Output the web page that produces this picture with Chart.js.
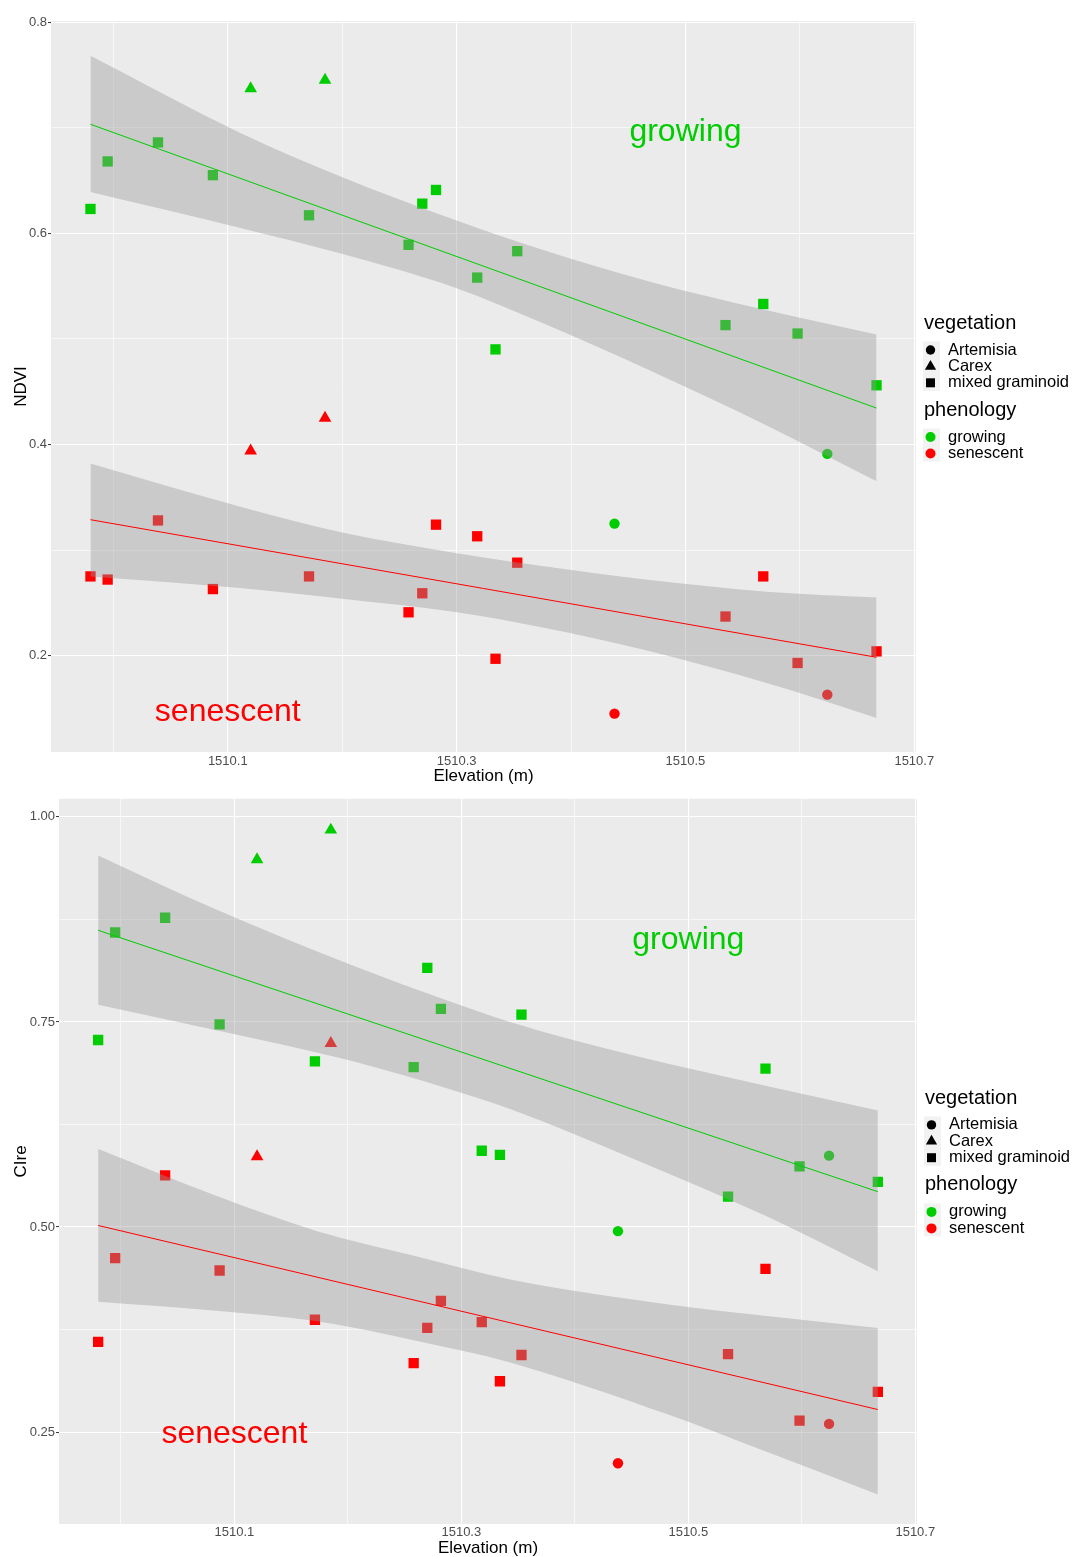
<!DOCTYPE html>
<html>
<head>
<meta charset="utf-8">
<title>NDVI and CIre along elevation</title>
<script src="https://cdn.jsdelivr.net/npm/chart.js@4.4.1/dist/chart.umd.min.js"></script>
<style>
  html, body { margin: 0; padding: 0; background: #ffffff; }
  #wrap { position: relative; width: 1075px; height: 1557px; }
  #wrap canvas { position: absolute; left: 0; }
  #ndviChart { top: 0; }
  #cireChart { top: 790px; }
</style>
</head>
<body>
<div id="wrap">
  <canvas id="ndviChart" width="1075" height="790"></canvas>
  <canvas id="cireChart" width="1075" height="767"></canvas>
</div>
<script>
// sampling plots: elevation (m) and vegetation type
const elevation = [1509.980, 1509.995, 1510.039, 1510.087, 1510.120, 1510.171, 1510.185, 1510.258, 1510.270, 1510.282,
                   1510.318, 1510.334, 1510.353, 1510.438, 1510.535, 1510.568, 1510.598, 1510.624, 1510.667];
const vegetation = ['mixed graminoid', 'mixed graminoid', 'mixed graminoid', 'mixed graminoid', 'Carex',
                    'mixed graminoid', 'Carex', 'mixed graminoid', 'mixed graminoid', 'mixed graminoid',
                    'mixed graminoid', 'mixed graminoid', 'mixed graminoid', 'Artemisia', 'mixed graminoid',
                    'mixed graminoid', 'mixed graminoid', 'Artemisia', 'mixed graminoid'];

// NDVI
const ndviGrowing   = [0.623, 0.668, 0.686, 0.655, 0.737, 0.617, 0.745, 0.589, 0.628, 0.641,
                       0.558, 0.490, 0.583, 0.325, 0.513, 0.533, 0.505, 0.391, 0.456];
const ndviSenescent = [0.275, 0.272, 0.328, 0.263, 0.394, 0.275, 0.425, 0.241, 0.259, 0.324,
                       0.313, 0.197, 0.288, 0.145, 0.237, 0.275, 0.193, 0.163, 0.204];
const ndviFitX = [1509.980, 1510.667];
const ndviGrowingFit   = [0.7032, 0.4344];
const ndviSenescentFit = [0.3287, 0.1984];
const ndviBandX = [1509.980, 1510.111, 1510.198, 1510.300, 1510.373, 1510.469, 1510.571, 1510.667];
const ndviGrowingUpper   = [0.768, 0.695, 0.654, 0.612, 0.585, 0.554, 0.527, 0.504];
const ndviGrowingLower   = [0.639, 0.605, 0.581, 0.548, 0.516, 0.470, 0.418, 0.365];
const ndviSenescentUpper = [0.382, 0.341, 0.317, 0.297, 0.285, 0.2715, 0.2605, 0.255];
const ndviSenescentLower = [0.275, 0.264, 0.254, 0.241, 0.227, 0.204, 0.174, 0.141];

// CIre
const cireGrowing   = [0.728, 0.859, 0.877, 0.747, 0.948, 0.702, 0.984, 0.695, 0.816, 0.766,
                       0.593, 0.588, 0.759, 0.495, 0.537, 0.693, 0.574, 0.587, 0.555];
const cireSenescent = [0.360, 0.462, 0.563, 0.447, 0.586, 0.387, 0.724, 0.334, 0.377, 0.410,
                       0.384, 0.312, 0.344, 0.212, 0.345, 0.449, 0.264, 0.260, 0.299];
const cireFitX = [1509.980, 1510.667];
const cireGrowingFit   = [0.8617, 0.5431];
const cireSenescentFit = [0.5019, 0.2775];
const cireGrowingBandX = [1509.980, 1510.084, 1510.202, 1510.290, 1510.343, 1510.452, 1510.569, 1510.667];
const cireGrowingUpper = [0.953, 0.887, 0.820, 0.775, 0.750, 0.709, 0.672, 0.642];
const cireGrowingLower = [0.771, 0.740, 0.703, 0.668, 0.644, 0.583, 0.513, 0.446];
const cireSenescentBandX = [1509.980, 1510.084, 1510.173, 1510.261, 1510.343, 1510.481, 1510.569, 1510.667];
const cireSenescentUpper = [0.595, 0.538, 0.495, 0.464, 0.436, 0.406, 0.3915, 0.377];
const cireSenescentLower = [0.409, 0.398, 0.385, 0.361, 0.335, 0.272, 0.226, 0.174];

// axes
const xMin = 1509.9455, xMax = 1510.7015;
const xTicks = [1510.1, 1510.3, 1510.5, 1510.7];
const xTickLabels = ['1510.1', '1510.3', '1510.5', '1510.7'];
const ndviMin = 0.1087, ndviMax = 0.801;
const ndviTicks = [0.2, 0.4, 0.6, 0.8];
const ndviTickLabels = ['0.2', '0.4', '0.6', '0.8'];
const cireMin = 0.138, cireMax = 1.022;
const cireTicks = [0.25, 0.5, 0.75, 1.0];
const cireTickLabels = ['0.25', '0.50', '0.75', '1.00'];

// legend + text notes inside the panels
const vegetationLevels = ['Artemisia', 'Carex', 'mixed graminoid'];
const phenologyLevels = ['growing', 'senescent'];
const ndviNoteX = [1510.5, 1510.1], ndviNoteY = [0.696, 0.146];
const cireNoteX = [1510.5, 1510.1], cireNoteY = [0.85, 0.248];

const GREEN = '#00CD00', RED = '#FF0000';
const shapeOf  = { 'Artemisia': 'circle', 'Carex': 'triangle', 'mixed graminoid': 'rect' };
const radiusOf = { 'Artemisia': 5.2, 'Carex': 7.3, 'mixed graminoid': 7.3 };

Chart.defaults.font.family = '"Liberation Sans", Arial, sans-serif';

function pairs(xs, ys) {
  return xs.map(function(x, i) { return { x: x, y: ys[i] }; });
}

function isTick(v, list) {
  return list.findIndex(function(t) { return Math.abs(t - v) < 1e-6; });
}

function pointSet(values, color) {
  return {
    type: 'line', showLine: false, order: 2,
    data: pairs(elevation, values),
    pointStyle: vegetation.map(function(v) { return shapeOf[v]; }),
    pointRadius: vegetation.map(function(v) { return radiusOf[v]; }),
    pointBackgroundColor: color, pointBorderWidth: 0
  };
}

function bandSet(xs, upper, lower) {
  // ribbon drawn on top of the points, like geom_smooth
  return [
    { type: 'line', order: 1, data: pairs(xs, upper), fill: '+1', backgroundColor: 'rgba(153,153,153,0.4)',
      borderColor: 'rgba(0,0,0,0)', borderWidth: 0, pointRadius: 0, cubicInterpolationMode: 'monotone' },
    { type: 'line', order: 1, data: pairs(xs, lower), fill: false,
      borderColor: 'rgba(0,0,0,0)', borderWidth: 0, pointRadius: 0, cubicInterpolationMode: 'monotone' }
  ];
}

function fitSet(xs, ys, color) {
  return { type: 'line', order: 0, data: pairs(xs, ys), borderColor: color, borderWidth: 1, pointRadius: 0, fill: false };
}

// grey panel background
const panelBg = {
  id: 'panelBg',
  beforeDraw: function(chart) {
    const a = chart.chartArea, ctx = chart.ctx;
    ctx.save();
    ctx.fillStyle = '#EBEBEB';
    ctx.fillRect(a.left, a.top, a.right - a.left, a.bottom - a.top);
    ctx.restore();
  }
};

// "growing" / "senescent" labels placed in data coordinates
const panelNotes = {
  id: 'panelNotes',
  afterDatasetsDraw: function(chart, args, opts) {
    const ctx = chart.ctx;
    ctx.save();
    ctx.font = '32px "Liberation Sans", Arial, sans-serif';
    ctx.textAlign = 'center';
    ctx.textBaseline = 'middle';
    opts.xs.forEach(function(x, i) {
      ctx.fillStyle = i === 0 ? GREEN : RED;
      ctx.fillText(phenologyLevels[i], chart.scales.x.getPixelForValue(x), chart.scales.y.getPixelForValue(opts.ys[i]));
    });
    ctx.restore();
  }
};

function drawShape(ctx, shape, x, y, r) {
  ctx.beginPath();
  if (shape === 'circle') {
    ctx.arc(x, y, r, 0, Math.PI * 2);
  } else if (shape === 'triangle') {
    ctx.moveTo(x, y - r);
    ctx.lineTo(x + r * 0.866, y + r * 0.5);
    ctx.lineTo(x - r * 0.866, y + r * 0.5);
    ctx.closePath();
  } else {
    ctx.rect(x - r, y - r, 2 * r, 2 * r);
  }
  ctx.fill();
}

// ggplot-like legend on the right
const sideLegend = {
  id: 'sideLegend',
  afterDraw: function(chart) {
    const ctx = chart.ctx, a = chart.chartArea;
    const x0 = a.right + 8;
    const y0 = (a.top + a.bottom) / 2 - 57.5;
    const legendSize = { 'Artemisia': 4.7, 'Carex': 6.5, 'mixed graminoid': 4.5 };
    ctx.save();
    ctx.fillStyle = '#000';
    ctx.textBaseline = 'alphabetic';
    ctx.font = '20px "Liberation Sans", Arial, sans-serif';
    ctx.fillText('vegetation', x0, y0);
    ctx.fillText('phenology', x0, y0 + 86.5);

    ctx.fillStyle = '#F2F2F2';
    ctx.fillRect(x0 - 1, y0 + 12.5, 17, 49.5);
    ctx.fillRect(x0 - 1, y0 + 99.5, 17, 33);

    ctx.font = '16.5px "Liberation Sans", Arial, sans-serif';
    ctx.textBaseline = 'middle';
    vegetationLevels.forEach(function(v, i) {
      const cy = y0 + 21 + i * 16.4;
      ctx.fillStyle = '#000';
      drawShape(ctx, shapeOf[v], x0 + 6.5, cy, legendSize[v]);
      ctx.fillText(v, x0 + 24, cy);
    });
    phenologyLevels.forEach(function(p, i) {
      const cy = y0 + 108 + i * 16.5;
      ctx.fillStyle = i === 0 ? GREEN : RED;
      drawShape(ctx, 'circle', x0 + 6.5, cy, 5);
      ctx.fillStyle = '#000';
      ctx.fillText(p, x0 + 24, cy);
    });
    ctx.restore();
  }
};

function gridStyle(majors, tickColor) {
  return {
    color: '#FFFFFF',
    lineWidth: function(c) { return c.tick && isTick(c.tick.value, majors) >= 0 ? 1.1 : 0.6; },
    drawTicks: true,
    tickLength: 3,
    tickWidth: 1,
    tickColor: function(c) { return c.tick && isTick(c.tick.value, majors) >= 0 ? tickColor : 'rgba(0,0,0,0)'; }
  };
}

function createChart(canvasId, cfg) {
  const ctx = document.getElementById(canvasId).getContext('2d');
  return new Chart(ctx, {
    type: 'line',
    data: {
      datasets: [
        fitSet(cfg.fitX, cfg.growingFit, GREEN),
        fitSet(cfg.fitX, cfg.senescentFit, RED)
      ].concat(
        bandSet(cfg.gBandX, cfg.gUpper, cfg.gLower),
        bandSet(cfg.sBandX, cfg.sUpper, cfg.sLower),
        [pointSet(cfg.growing, GREEN), pointSet(cfg.senescent, RED)]
      )
    },
    options: {
      responsive: false,
      animation: false,
      events: [],
      layout: { padding: { left: 0, right: cfg.rightPad, top: cfg.topPad, bottom: 0 } },
      plugins: {
        legend: { display: false },
        tooltip: { enabled: false },
        panelNotes: { xs: cfg.noteX, ys: cfg.noteY }
      },
      scales: {
        x: {
          type: 'linear', position: 'bottom', min: xMin, max: xMax,
          afterFit: function(scale) { scale.height = cfg.xAxisHeight; },
          border: { display: false },
          grid: gridStyle(xTicks, 'rgba(0,0,0,0)'),
          ticks: {
            stepSize: 0.1, includeBounds: false, autoSkip: false, maxRotation: 0,
            color: '#4D4D4D', font: { size: 13 }, padding: cfg.xTickPad,
            callback: function(v) { const i = isTick(v, xTicks); return i >= 0 ? xTickLabels[i] : ''; }
          },
          title: { display: true, text: 'Elevation (m)', color: '#000', font: { size: 17, lineHeight: 1 },
                   padding: { top: 0, bottom: cfg.xTitlePad } }
        },
        y: {
          type: 'linear', min: cfg.yMin, max: cfg.yMax,
          afterFit: function(scale) { scale.width = cfg.yAxisWidth; },
          border: { display: false },
          grid: gridStyle(cfg.yTicks, '#333333'),
          ticks: {
            stepSize: cfg.yStep, includeBounds: false, autoSkip: false,
            color: '#4D4D4D', font: { size: 13 }, padding: 1,
            callback: function(v) { const i = isTick(v, cfg.yTicks); return i >= 0 ? cfg.yTickLabels[i] : ''; }
          },
          title: { display: true, text: cfg.yTitle, color: '#000', font: { size: 17, lineHeight: 1 },
                   padding: { top: 12.5, bottom: 0 } }
        }
      }
    },
    plugins: [panelBg, panelNotes, sideLegend]
  });
}

createChart('ndviChart', {
  growing: ndviGrowing, senescent: ndviSenescent,
  fitX: ndviFitX, growingFit: ndviGrowingFit, senescentFit: ndviSenescentFit,
  gBandX: ndviBandX, gUpper: ndviGrowingUpper, gLower: ndviGrowingLower,
  sBandX: ndviBandX, sUpper: ndviSenescentUpper, sLower: ndviSenescentLower,
  yMin: ndviMin, yMax: ndviMax, yStep: 0.1, yTicks: ndviTicks, yTickLabels: ndviTickLabels, yTitle: 'NDVI',
  noteX: ndviNoteX, noteY: ndviNoteY,
  topPad: 21, rightPad: 159, yAxisWidth: 51, xAxisHeight: 38, xTickPad: -1, xTitlePad: 5
});

createChart('cireChart', {
  growing: cireGrowing, senescent: cireSenescent,
  fitX: cireFitX, growingFit: cireGrowingFit, senescentFit: cireSenescentFit,
  gBandX: cireGrowingBandX, gUpper: cireGrowingUpper, gLower: cireGrowingLower,
  sBandX: cireSenescentBandX, sUpper: cireSenescentUpper, sLower: cireSenescentLower,
  yMin: cireMin, yMax: cireMax, yStep: 0.125, yTicks: cireTicks, yTickLabels: cireTickLabels, yTitle: 'CIre',
  noteX: cireNoteX, noteY: cireNoteY,
  topPad: 5, rightPad: 158, yAxisWidth: 59, xAxisHeight: 33, xTickPad: -2, xTitlePad: 0
});
</script>
</body>
</html>
